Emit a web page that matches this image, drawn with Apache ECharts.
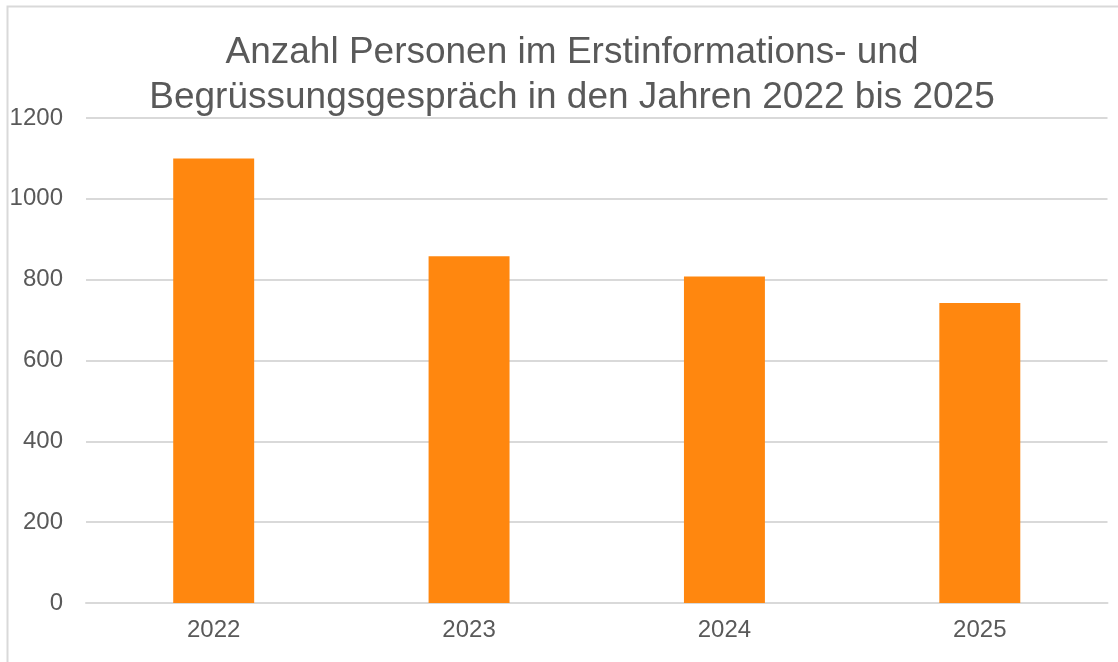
<!DOCTYPE html>
<html>
<head>
<meta charset="utf-8">
<script src="https://cdn.jsdelivr.net/npm/echarts@6/dist/echarts.min.js"></script>
<style>
  html, body { margin: 0; padding: 0; background: #fff; }
  #chart { width: 1118px; height: 662px; }
</style>
</head>
<body>
<div id="chart"></div>
<script>
// Daten
var jahre = ['2022', '2023', '2024', '2025'];
var personen = [1100, 858, 808, 742];
var yTicks = [0, 200, 400, 600, 800, 1000, 1200];

var chart = echarts.init(document.getElementById('chart'));
var option = {
  backgroundColor: '#ffffff',
  animation: false,
  title: {
    text: 'Anzahl Personen im Erstinformations- und\nBegrüssungsgespräch in den Jahren 2022 bis 2025',
    left: 567,
    top: 25,
    textAlign: 'center',
    textStyle: {
      fontFamily: 'Liberation Sans, Arial, sans-serif',
      fontSize: 37,
      fontWeight: 'normal',
      color: '#595959',
      lineHeight: 45
    }
  },
  grid: {
    left: 86,
    right: 10.5,
    top: 118,
    bottom: 59,
    containLabel: false
  },
  xAxis: {
    type: 'category',
    data: jahre,
    axisLine: { lineStyle: { color: '#d9d9d9', width: 2 } },
    axisTick: { show: false },
    axisLabel: {
      margin: 15,
      fontFamily: 'Liberation Sans, Arial, sans-serif',
      fontSize: 24,
      color: '#595959'
    }
  },
  yAxis: {
    type: 'value',
    min: yTicks[0],
    max: yTicks[yTicks.length - 1],
    interval: 200,
    axisLine: { show: false },
    axisTick: { show: false },
    splitLine: { lineStyle: { color: '#d9d9d9', width: 2 } },
    axisLabel: {
      margin: 23,
      fontFamily: 'Liberation Sans, Arial, sans-serif',
      fontSize: 24,
      color: '#595959',
      formatter: function (v) { return String(v); }
    }
  },
  series: [{
    type: 'bar',
    data: personen,
    barWidth: '31.7%',
    itemStyle: { color: '#ff870f' }
  }],
  graphic: [{
    type: 'rect',
    shape: { x: 7.5, y: 6.5, width: 1200, height: 1000 },
    style: { fill: 'none', stroke: '#d9d9d9', lineWidth: 2 },
    silent: true
  }]
};
chart.setOption(option);
</script>
</body>
</html>
